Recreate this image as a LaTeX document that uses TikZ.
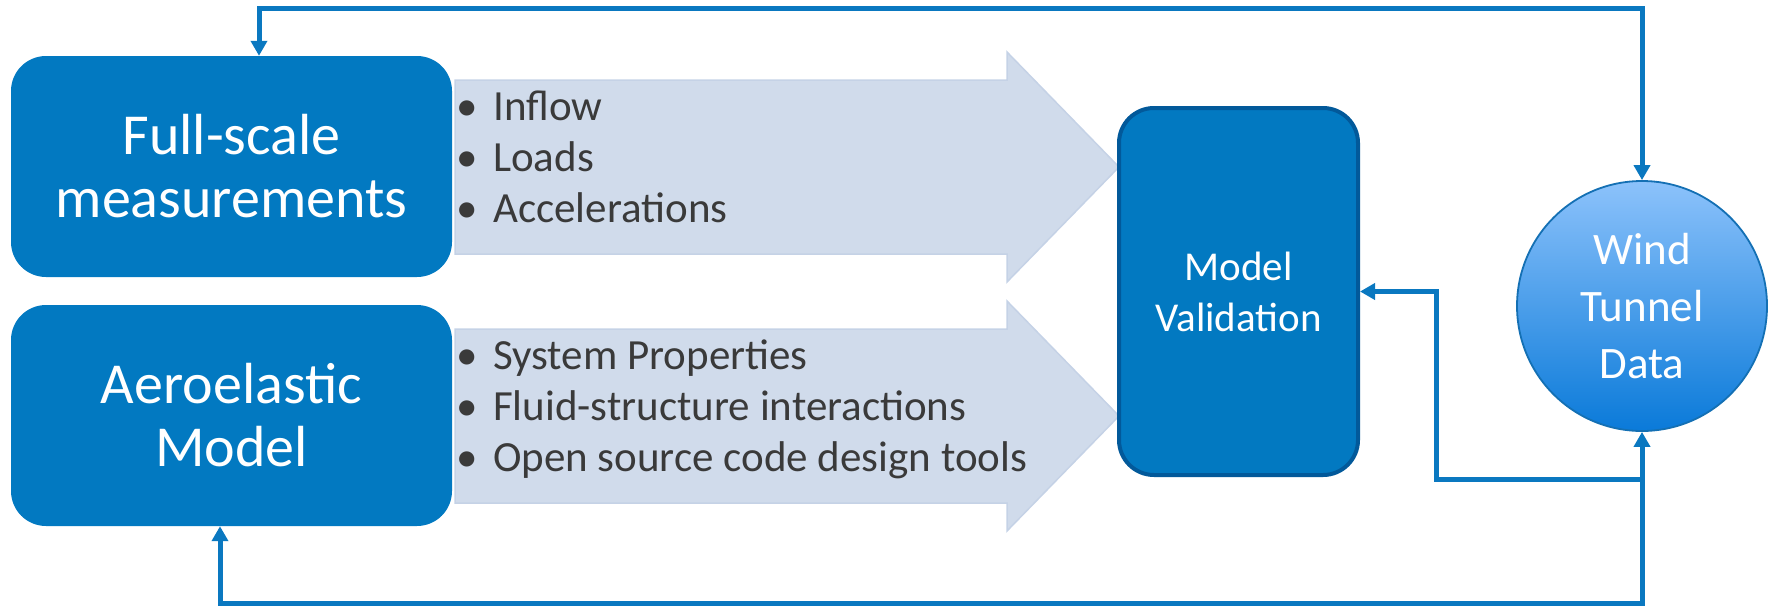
\documentclass[tikz,border=0pt]{standalone}
\usepackage{fontspec}
\setmainfont{Carlito}
\usetikzlibrary{arrows.meta,calc}

\definecolor{boxblue}{HTML}{0279C1}
\definecolor{mvborder}{HTML}{02599A}
\definecolor{linkblue}{HTML}{0A78C0}
\definecolor{flowfill}{HTML}{D0DBEB}
\definecolor{flowedge}{HTML}{C5D2E6}
\definecolor{bullettext}{HTML}{3A3A3A}
\definecolor{circtop}{HTML}{8CC2FB}
\definecolor{circbot}{HTML}{0A7AD9}
\definecolor{circedge}{HTML}{1470B4}

\begin{document}
\begin{tikzpicture}[x=1pt,y=-1pt,
  bigbox/.style={rectangle, rounded corners=35pt, fill=boxblue, text=white,
    align=center, minimum width=441pt, minimum height=221pt, inner sep=0pt,
    font=\fontsize{58}{63}\selectfont},
  valbox/.style={rectangle, rounded corners=35pt, fill=boxblue, draw=mvborder,
    line width=4pt, text=white, align=center, minimum width=239pt,
    minimum height=367pt, inner sep=0pt, font=\fontsize{41}{51}\selectfont},
  databall/.style={circle, minimum size=250pt, inner sep=0pt, draw=circedge,
    line width=1.8pt, top color=circtop, bottom color=circbot, text=white,
    align=center, font=\fontsize{45}{57}\selectfont},
  flow/.style={fill=flowfill, draw=flowedge, line width=1.5pt, line join=miter},
  bulletline/.style={anchor=base west, inner sep=0pt, text=bullettext,
    font=\fontsize{43}{50}\selectfont},
  link/.style={draw=linkblue, line width=5pt, line join=miter},
  linktip/.style={-{Triangle[width=16pt,length=15pt]}},
  bothtips/.style={{Triangle[width=16pt,length=15pt]}-{Triangle[width=16pt,length=15pt]}}
]
\useasboundingbox (0,0) rectangle (1770,606);

% wide block arrows carrying the listed inputs
\path[flow] (455,80) -- (1007,80) -- (1007,52) -- (1119,167) -- (1007,282)
  -- (1007,254) -- (455,254) -- cycle;
\path[flow] (455,329) -- (1007,329) -- (1007,301) -- (1119,416) -- (1007,531)
  -- (1007,503) -- (455,503) -- cycle;

% main blocks
\node[bigbox] (fsm) at (231.5,166.5) {Full-scale\\measurements};
\node[bigbox] (aem) at (231.5,415.5) {Aeroelastic\\Model};
\node[valbox] (mv) at (1238.5,291.5) {Model\\Validation};
\node[databall] (wtd) at (1642,306) {Wind\\Tunnel\\Data};

% bullet lists
\node[bulletline] (b1) at (456,120) {\makebox[37pt][l]{•}Inflow};
\node[bulletline] (b2) at (456,171) {\makebox[37pt][l]{•}Loads};
\node[bulletline] (b3) at (456,222) {\makebox[37pt][l]{•}Accelerations};
\node[bulletline] (b4) at (456,369) {\makebox[37pt][l]{•}System Properties};
\node[bulletline] (b5) at (456,420) {\makebox[37pt][l]{•}Fluid-structure interactions};
\node[bulletline] (b6) at (456,471) {\makebox[37pt][l]{•}Open source code design tools};

% routing points of the feedback lines
\coordinate (topleft) at (259,8);
\coordinate (botleft) at (220,603);
\coordinate (junc) at (1436,479);

% feedback connectors
\draw[link, bothtips] (topleft |- fsm.north) -- (topleft) -- (topleft -| wtd.north) -- (wtd.north);
\draw[link, bothtips] (botleft |- aem.south) -- (botleft) -- (botleft -| wtd.south) -- (wtd.south);
\draw[link, linktip] (wtd.south |- junc) -- (junc) |- (mv.east);
\end{tikzpicture}
\end{document}
